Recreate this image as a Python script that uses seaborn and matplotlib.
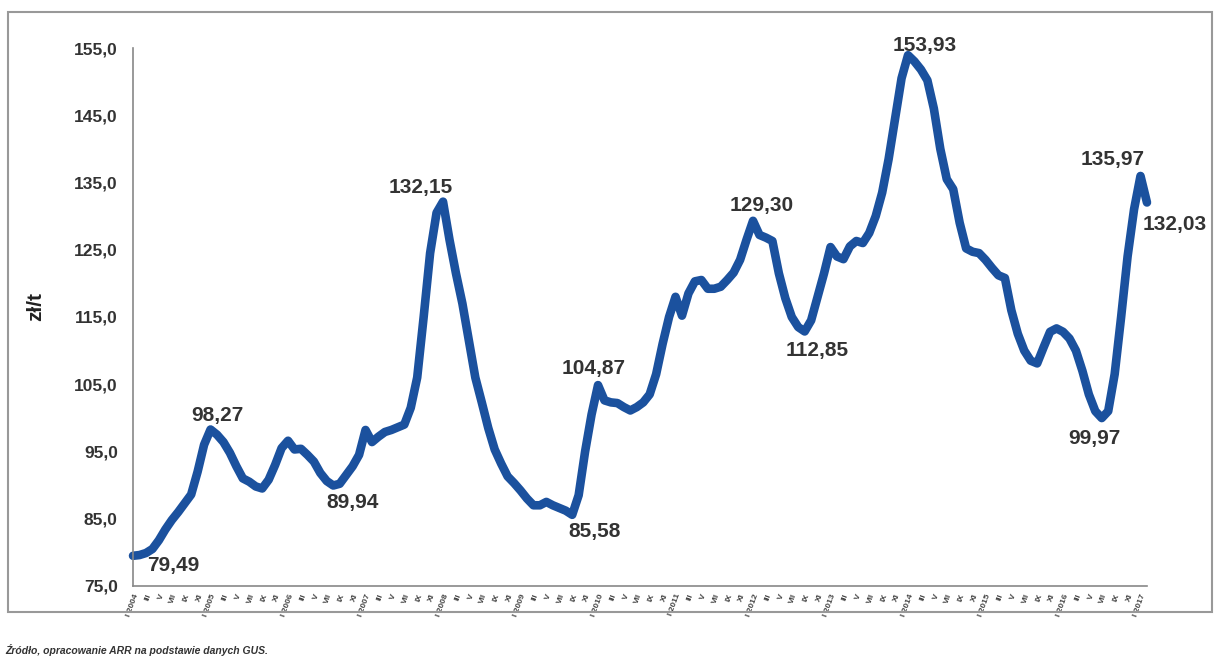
import pandas as pd
import matplotlib.pyplot as plt
import seaborn as sns
from matplotlib.patches import Rectangle

# monthly price, zł/t, I 2004 - II 2017
prices = [
    79.49, 79.6, 79.9, 80.5, 81.8, 83.4, 84.8, 86.0, 87.3, 88.6, 92.0, 96.0,
    98.27, 97.5, 96.4, 94.8, 92.8, 91.0, 90.5, 89.8, 89.5, 90.8, 93.0, 95.5,
    96.6, 95.3, 95.4, 94.5, 93.5, 91.8, 90.6, 89.94, 90.2, 91.5, 92.8, 94.5,
    98.2, 96.4, 97.2, 97.9, 98.2, 98.6, 99.0, 101.5, 106.0, 115.0, 124.5, 130.5,
    132.15, 126.5, 121.5, 117.0, 111.5, 106.0, 102.3, 98.5, 95.3, 93.2, 91.3, 90.3,
    89.2, 88.0, 87.0, 87.0, 87.5, 87.0, 86.6, 86.2, 85.58, 88.5, 95.0, 100.5,
    104.87, 102.6, 102.3, 102.2, 101.6, 101.1, 101.6, 102.3, 103.5, 106.5, 111.0, 115.0,
    118.0, 115.2, 118.5, 120.3, 120.5, 119.2, 119.2, 119.5, 120.5, 121.6, 123.5, 126.5,
    129.30, 127.2, 126.8, 126.3, 121.5, 117.8, 115.0, 113.5, 112.85, 114.5, 118.0, 121.5,
    125.4, 124.0, 123.6, 125.5, 126.3, 126.0, 127.5, 130.0, 133.5, 138.5, 144.5, 150.5,
    153.93, 153.0, 151.8, 150.2, 146.0, 140.0, 135.5, 134.0, 129.0, 125.2, 124.7, 124.5,
    123.5, 122.3, 121.2, 120.8, 116.0, 112.5, 110.0, 108.5, 108.1, 110.5, 112.8, 113.3,
    112.8, 111.8, 110.0, 107.0, 103.5, 101.0, 99.97, 101.0, 106.5, 115.0, 124.0, 131.0,
    135.97, 132.03,
]

years = list(range(2004, 2018))
month_labels = ["I", "III", "V", "VII", "IX", "XI"]

# points with a value label and offset (points) of the label
label_idx = [0, 12, 31, 48, 68, 72, 96, 104, 120, 150, 156, 157]
label_offsets = [(29, -7), (5, 10), (14, -12), (-16, 10), (16, -12), (-3, 12),
                 (6, 11), (9, -14), (12, 7), (-5, -15), (-20, 12), (20, -16)]

y_ticks = [75, 85, 95, 105, 115, 125, 135, 145, 155]

sns.set_style("white")
plt.rcParams["font.family"] = ["Liberation Sans", "DejaVu Sans"]

df = pd.DataFrame({"month": range(len(prices)), "price": prices})

fig = plt.figure(figsize=(12.15, 6.64), dpi=100)
ax = fig.add_axes([0.1095, 0.1175, 0.8345, 0.8102])

sns.lineplot(x="month", y="price", data=df, ax=ax, color="#1b519e", linewidth=6.2,
             solid_joinstyle="round", solid_capstyle="round", clip_on=False)

ax.set_xlim(0, len(prices) - 1)
ax.set_ylim(75, 155)

# x tick labels every second month
tick_pos, tick_txt = [], []
for i in range(0, len(prices), 2):
    m = month_labels[(i % 12) // 2]
    tick_pos.append(i)
    tick_txt.append(f"{m} {years[i // 12]}" if m == "I" else m)
ax.set_xticks(tick_pos)
ax.set_xticklabels(tick_txt, rotation=70, ha="right", rotation_mode="anchor",
                   fontsize=6, fontweight="bold", color="#444444")

ax.set_yticks(y_ticks)
ax.set_yticklabels([f"{v},0" for v in y_ticks], fontsize=12.5, fontweight="bold",
                   color="#333333")
ax.tick_params(axis="y", direction="out", length=5, width=1, color="#888888", pad=6)
ax.tick_params(axis="x", direction="out", length=3, width=0.8, color="#888888", pad=2)

ax.set_xlabel("")
ax.set_ylabel("zł/t", fontsize=15, fontweight="bold", color="#222222")
ax.yaxis.set_label_coords(-0.087, 0.52)

for side in ["top", "right"]:
    ax.spines[side].set_visible(False)
for side in ["left", "bottom"]:
    ax.spines[side].set_color("#888888")
    ax.spines[side].set_linewidth(1.2)

for i, off in zip(label_idx, label_offsets):
    ax.annotate(f"{prices[i]:.2f}".replace(".", ","), xy=(i, prices[i]),
                xytext=off, textcoords="offset points", ha="center", va="center",
                fontsize=15, fontweight="bold", color="#333333", annotation_clip=False)

# outer frame of the chart
fig.patches.append(Rectangle((8 / 1215, 1 - 612 / 664), 1204 / 1215, 600 / 664,
                             transform=fig.transFigure, fill=False,
                             edgecolor="#999999", linewidth=1.5))

fig.text(5 / 1215, 1 - 650 / 664,
         "Źródło, opracowanie ARR na podstawie danych GUS.",
         fontsize=7.5, fontstyle="italic", fontweight="bold", color="#333333",
         va="center")

plt.savefig("out.png", dpi=100)
